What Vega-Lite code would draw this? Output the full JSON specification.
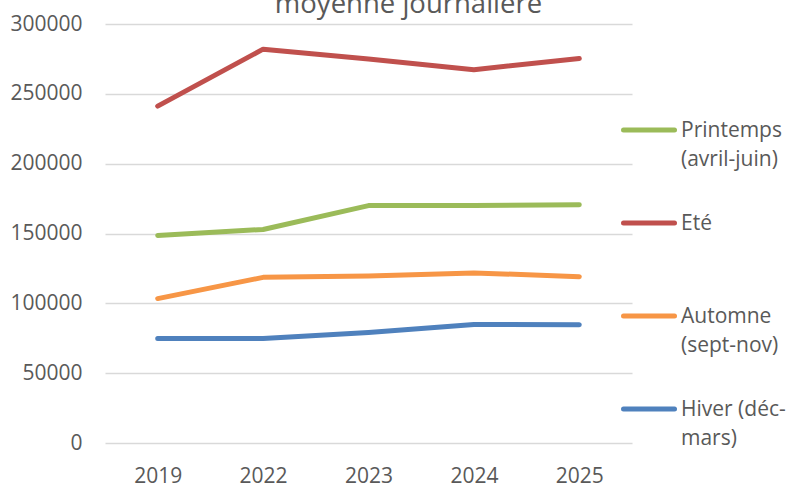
{
  "$schema": "https://vega.github.io/schema/vega-lite/v6.json",
  "width": 527,
  "height": 419,
  "autosize": {"type": "none"},
  "padding": {"left": 105, "top": 24, "right": 162, "bottom": 47},
  "background": "white",
  "title": {
    "text": "moyenne journalière",
    "font": "Open Sans",
    "fontSize": 27.5,
    "fontWeight": "normal",
    "color": "#595959",
    "anchor": "middle",
    "baseline": "alphabetic",
    "offset": -27,
    "dx": 40
  },
  "config": {
    "view": {"stroke": null},
    "font": "Open Sans"
  },
  "data": {
    "values": [
      {"annee": "2019", "saison": "Printemps (avril-juin)", "valeur": 148600},
      {"annee": "2022", "saison": "Printemps (avril-juin)", "valeur": 152900},
      {"annee": "2023", "saison": "Printemps (avril-juin)", "valeur": 170000},
      {"annee": "2024", "saison": "Printemps (avril-juin)", "valeur": 170000},
      {"annee": "2025", "saison": "Printemps (avril-juin)", "valeur": 170600},
      {"annee": "2019", "saison": "Eté", "valeur": 241200},
      {"annee": "2022", "saison": "Eté", "valeur": 282000},
      {"annee": "2023", "saison": "Eté", "valeur": 275000},
      {"annee": "2024", "saison": "Eté", "valeur": 267300},
      {"annee": "2025", "saison": "Eté", "valeur": 275300},
      {"annee": "2019", "saison": "Automne (sept-nov)", "valeur": 103400},
      {"annee": "2022", "saison": "Automne (sept-nov)", "valeur": 118600},
      {"annee": "2023", "saison": "Automne (sept-nov)", "valeur": 119600},
      {"annee": "2024", "saison": "Automne (sept-nov)", "valeur": 121800},
      {"annee": "2025", "saison": "Automne (sept-nov)", "valeur": 119100},
      {"annee": "2019", "saison": "Hiver (déc-mars)", "valeur": 74800},
      {"annee": "2022", "saison": "Hiver (déc-mars)", "valeur": 74800},
      {"annee": "2023", "saison": "Hiver (déc-mars)", "valeur": 79200},
      {"annee": "2024", "saison": "Hiver (déc-mars)", "valeur": 84900},
      {"annee": "2025", "saison": "Hiver (déc-mars)", "valeur": 84600}
    ]
  },
  "mark": {"type": "line", "strokeWidth": 5, "strokeCap": "round", "strokeJoin": "round"},
  "encoding": {
    "x": {
      "field": "annee",
      "type": "ordinal",
      "scale": {"type": "point", "padding": 0.5},
      "axis": {
        "title": null,
        "labelAngle": 0,
        "ticks": false,
        "domain": false,
        "labelFont": "Open Sans",
        "labelFontSize": 21,
        "labelColor": "#595959",
        "labelBaseline": "alphabetic",
        "labelPadding": 39
      }
    },
    "y": {
      "field": "valeur",
      "type": "quantitative",
      "scale": {"domain": [0, 300000], "nice": false},
      "axis": {
        "title": null,
        "values": [0, 50000, 100000, 150000, 200000, 250000, 300000],
        "format": "d",
        "ticks": false,
        "domain": false,
        "grid": true,
        "gridColor": "#D9D9D9",
        "gridWidth": 1.5,
        "labelFont": "Open Sans",
        "labelFontSize": 21,
        "labelColor": "#595959",
        "labelPadding": 23
      }
    },
    "color": {
      "field": "saison",
      "type": "nominal",
      "scale": {
        "domain": ["Printemps (avril-juin)", "Eté", "Automne (sept-nov)", "Hiver (déc-mars)"],
        "range": ["#9BBB59", "#C0504D", "#F79646", "#4F81BD"]
      },
      "legend": {
        "title": null,
        "orient": "none",
        "legendX": 516,
        "legendY": 78,
        "symbolType": "stroke",
        "symbolSize": 2601,
        "symbolStrokeWidth": 5,
        "labelFont": "Open Sans",
        "labelFontSize": 21,
        "labelColor": "#595959",
        "labelOffset": 4,
        "labelLimit": 200,
        "labelExpr": "datum.label == 'Printemps (avril-juin)' ? ['Printemps', '(avril-juin)'] : datum.label == 'Automne (sept-nov)' ? ['Automne', '(sept-nov)'] : datum.label == 'Hiver (déc-mars)' ? ['Hiver (déc-', 'mars)'] : datum.label",
        "labelBaseline": "alphabetic",
        "gridAlign": "all",
        "rowPadding": 25,
        "encode": {
          "labels": {"update": {"dy": {"value": 7}, "lineHeight": {"value": 29}}},
          "symbols": {"update": {"strokeCap": {"value": "round"}}}
        }
      }
    }
  }
}
